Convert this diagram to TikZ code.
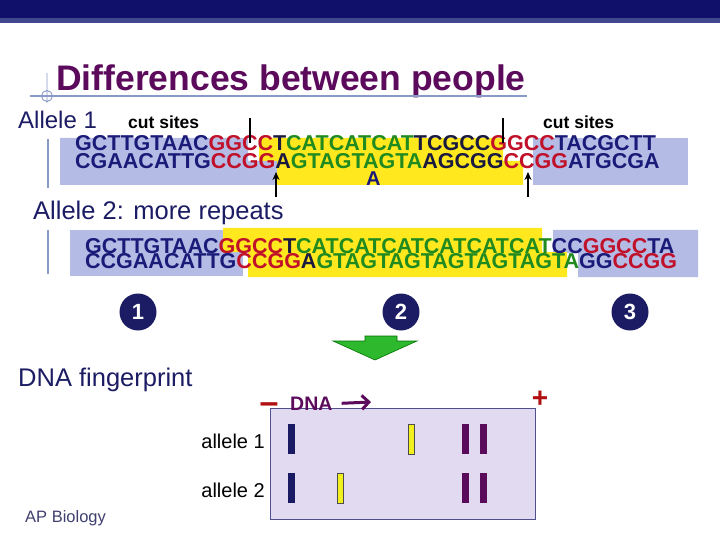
\documentclass[tikz,border=0pt]{standalone}
\usepackage{fontspec}
\setmainfont{Liberation Sans}
\usepackage{tikz}
\usetikzlibrary{arrows.meta}

\definecolor{barnavy}{HTML}{10106A}
\definecolor{barlight}{HTML}{404890}
\definecolor{titlepurple}{HTML}{5C0A5C}
\definecolor{rulegray}{HTML}{8A9AC8}
\definecolor{labelnavy}{HTML}{1C1C64}
\definecolor{seqnavy}{HTML}{1A1A78}
\definecolor{seqred}{HTML}{C0102A}
\definecolor{seqgreen}{HTML}{1F8A1F}
\definecolor{seqdark}{HTML}{1A1A40}
\definecolor{bgblue}{HTML}{B4BCE6}
\definecolor{bgyellow}{HTML}{FFE81E}
\definecolor{gelfill}{HTML}{E2DAF0}
\definecolor{gelborder}{HTML}{50508C}
\definecolor{arrowgreen}{HTML}{2DB82D}
\definecolor{plusred}{HTML}{B01010}
\definecolor{bandnavy}{HTML}{1A1A64}
\definecolor{bandpurple}{HTML}{5A0A5A}
\definecolor{bandyellow}{HTML}{F2F01E}
\definecolor{footgray}{HTML}{404070}

\newcommand{\seqN}[1]{\textcolor{seqnavy}{#1}}
\newcommand{\seqR}[1]{\textcolor{seqred}{#1}}
\newcommand{\seqG}[1]{\textcolor{seqgreen}{#1}}
\newcommand{\seqK}[1]{\textcolor{seqdark}{#1}}

\begin{document}
\begin{tikzpicture}[x=1pt,y=-1pt,
    seq/.style={anchor=base west,inner sep=0pt,font=\fontsize{21.5}{21.5}\selectfont\bfseries},
    lbl/.style={anchor=base west,inner sep=0pt,font=\fontsize{24}{24}\selectfont,text=labelnavy},
    cutlbl/.style={anchor=base west,inner sep=0pt,font=\fontsize{17.5}{17.5}\selectfont\bfseries},
    numdot/.style={circle,fill=labelnavy,minimum size=37pt,inner sep=0pt,text=white,font=\fontsize{22}{22}\selectfont\bfseries},
    rowlbl/.style={anchor=base east,inner sep=0pt,font=\fontsize{20}{20}\selectfont},
    band/.style={anchor=north west,minimum width=7pt,minimum height=30pt,inner sep=0pt},
    cut/.style={line width=1.6pt},
  ]
   \useasboundingbox (0,0) rectangle (720,540);
   \fill[white] (0,0) rectangle (720,540);
   % top bar and title
   \fill[barnavy] (0,0) rectangle (720,18);
   \fill[barlight] (0,18) rectangle (720,23);
   \node at (56,91) [anchor=base west,inner sep=0pt,font=\fontsize{35.5}{35.5}\selectfont\bfseries,text=titlepurple] (title) {Differences between people};
   \draw[rulegray,line width=1.4pt] (30,96) -- (527,96);
   \draw[rulegray,line width=0.9pt] (47,96) circle (5.5pt) (47,73) -- (47,103);

   % allele 1
   \node at (18,129) [lbl] (allele1) {Allele 1};
   \node at (128,129) [cutlbl] (cutleft) {cut sites};
   \node at (543,129) [cutlbl] (cutright) {cut sites};
   \draw[rulegray,line width=1.2pt] (48,139) -- (48,188);
   \fill[bgblue] (60,138) -- (248,138) -- (248,161) -- (277,161) -- (277,185) -- (60,185) -- cycle;
   \fill[bgyellow] (259,138) -- (503,138) -- (503,161) -- (523,161) -- (523,185) -- (277,185) -- (277,161) -- (259,161) -- cycle;
   \fill[bgblue] (533,138) rectangle (688,185);
   \node at (75,151) [seq] (top1) {\seqN{GCTTGTAAC}\seqR{GGCC}\seqK{T}\seqG{CATCATCAT}\seqK{TCGCC}\seqR{GGCC}\seqN{TACGCTT}};
   \node at (75,169) [seq] (bot1) {\seqN{CGAACATTG}\seqR{CCGG}\seqK{A}\seqG{GTAGTAGTA}\seqK{AGCGG}\seqR{CCGG}\seqN{ATGCGA}};
   \node at (366,186) [seq,text=seqnavy,font=\fontsize{20}{20}\selectfont\bfseries] (extra) {A};
   \draw[cut] (250,118) -- (250,143) (503,118) -- (503,143);
   \coordinate (tipleft) at (276,172);
   \coordinate (tipright) at (528,172);
   \draw[cut,-{Stealth[length=8pt,width=7pt]}] (276,197) -- (tipleft);
   \draw[cut,-{Stealth[length=8pt,width=7pt]}] (528,197) -- (tipright);

   % allele 2
   \node at (33,220) [lbl,font=\fontsize{25.5}{25.5}\selectfont] (allele2) {Allele 2: more repeats};
   \draw[rulegray,line width=1.2pt] (48,230) -- (48,274);
   \fill[bgblue] (70,230) rectangle (243,276);
   \fill[bgblue] (553,230) -- (698,230) -- (698,277) -- (578,277) -- (578,253) -- (553,253) -- cycle;
   \fill[bgyellow] (223,228) -- (542,228) -- (542,252) -- (567,252) -- (567,277) -- (248,277) -- (248,252) -- (223,252) -- cycle;
   \node at (85,253) [seq] (top2) {\seqN{GCTTGTAAC}\seqR{GGCC}\seqK{T}\seqG{CATCATCATCATCATCAT}\seqN{CC}\seqR{GGCC}\seqN{TA}};
   \node at (85,268) [seq] (bot2) {\seqN{CCGAACATTG}\seqR{CCGG}\seqK{A}\seqG{GTAGTAGTAGTAGTAGTA}\seqN{GG}\seqR{CCGG}};

   % steps
   \node at (138,312) [numdot] (step1) {1};
   \node at (401,312) [numdot] (step2) {2};
   \node at (630,312) [numdot] (step3) {3};
   \filldraw[fill=arrowgreen,draw=green!45!black,line width=0.6pt] (365,336) -- (397,336) -- (397,341) -- (417,341) -- (375,360) -- (333,341) -- (365,341) -- cycle;

   % fingerprint gel
   \node at (18,386) [lbl,font=\fontsize{25.5}{25.5}\selectfont] (fprint) {DNA fingerprint};
   \node at (270,408) [anchor=north west,draw=gelborder,fill=gelfill,line width=0.8pt,minimum width=265pt,minimum height=111pt,inner sep=0pt] (gel) {};
   \node at (269,408) [inner sep=0pt,font=\fontsize{34}{34}\selectfont\bfseries,text=plusred] (minus) {--};
   \node at (290,410) [anchor=base west,inner sep=0pt,font=\fontsize{19.5}{19.5}\selectfont\bfseries,text=titlepurple] (dnalbl) {DNA};
   \coordinate (dnatip) at (371,402);
   \draw[titlepurple,line width=3pt,-{Straight Barb[length=7pt,width=14pt]}] ([xshift=9pt]dnalbl.east) -- (dnatip);
   \node at (540,399) [inner sep=0pt,font=\fontsize{28}{28}\selectfont\bfseries,text=plusred] (plus) {+};
   \node at (265,448) [rowlbl] (row1) {allele 1};
   \node at (265,497) [rowlbl] (row2) {allele 2};
   \node at (288,424) [band,fill=bandnavy] (b1a) {};
   \node at (408,424) [band,fill=bandyellow,draw=black!70,line width=0.6pt,minimum width=6pt] (b1b) {};
   \node at (462,424) [band,fill=bandpurple] (b1c) {};
   \node at (480,424) [band,fill=bandpurple] (b1d) {};
   \node at (288,473) [band,fill=bandnavy] (b2a) {};
   \node at (337,473) [band,fill=bandyellow,draw=black!70,line width=0.6pt,minimum width=6pt] (b2b) {};
   \node at (462,473) [band,fill=bandpurple] (b2c) {};
   \node at (480,473) [band,fill=bandpurple] (b2d) {};

   \node at (25,522) [anchor=base west,inner sep=0pt,font=\fontsize{16.5}{16.5}\selectfont,text=footgray] (footer) {AP Biology};
\end{tikzpicture}
\end{document}
